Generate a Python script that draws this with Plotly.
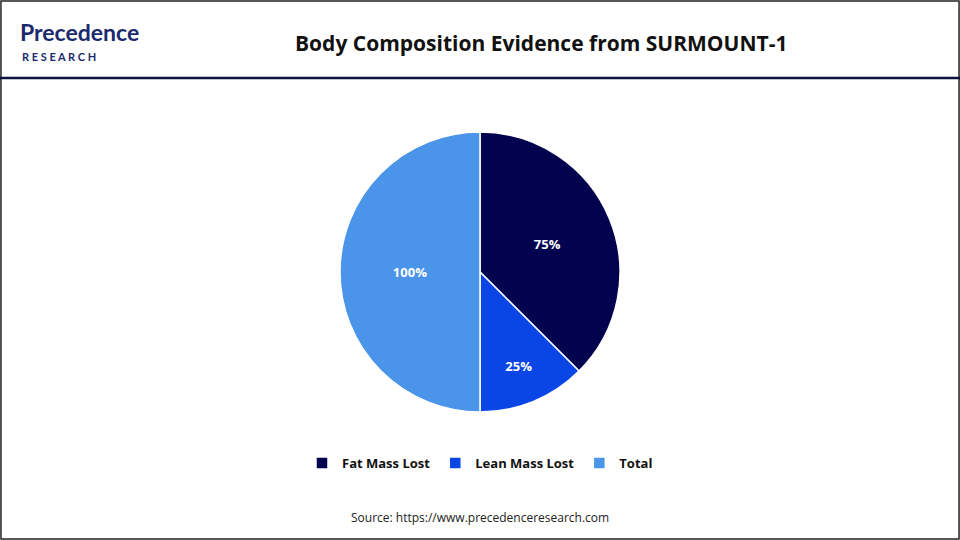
import plotly.graph_objects as go

labels = ["Fat Mass Lost", "Lean Mass Lost", "Total"]
values = [75, 25, 100]
text_labels = ["75%", "25%", "100%"]
colors = ["#02024f", "#0a46e6", "#4a94ea"]

fig = go.Figure()
fig.add_trace(go.Pie(
    labels=labels, values=values, text=text_labels, textinfo="text",
    sort=False, direction="clockwise", rotation=0,
    marker=dict(colors=colors, line=dict(color="white", width=1.5)),
    textfont=dict(family="Open Sans", size=13, color="white", weight="bold"),
    textposition="inside", insidetextorientation="horizontal",
    domain=dict(x=[340/960, 620/960], y=[1-412/540, 1-132/540]),
    hoverinfo="label+value",
))

fig.update_layout(
    width=960, height=540,
    margin=dict(l=0, r=0, t=0, b=0),
    paper_bgcolor="white",
    showlegend=True,
    legend=dict(orientation="h", x=0.5, xanchor="center", y=1-463/540, yanchor="middle",
                font=dict(family="Open Sans", size=13, color="#111", weight="bold"),
                itemwidth=30, traceorder="normal"),
    font=dict(family="Open Sans"),
    shapes=[
        dict(type="rect", xref="paper", yref="paper", x0=0.001, x1=0.999, y0=0.002, y1=0.998,
             line=dict(color="#222", width=1.5)),
        dict(type="line", xref="paper", yref="paper", x0=0, x1=1, y0=1-78/540, y1=1-78/540,
             line=dict(color="#0b1340", width=2.5)),
    ],
    annotations=[
        dict(text="<b>Body Composition Evidence from SURMOUNT-1</b>", x=0.564, y=1-43/540,
             xref="paper", yref="paper", yanchor="middle", showarrow=False,
             font=dict(family="Open Sans", size=21, color="#111")),
        dict(text="Source: https://www.precedenceresearch.com", x=0.5, y=1-517/540,
             xref="paper", yref="paper", yanchor="middle", showarrow=False,
             font=dict(family="Open Sans", size=12, color="#222")),
        dict(text="<b>Precedence</b>", x=18/960, y=1-32/540, xref="paper", yref="paper",
             xanchor="left", yanchor="middle", showarrow=False,
             font=dict(family="Lato", size=23, color="#1a2a6c")),
        dict(text="<b>R E S E A R C H</b>", x=20/960, y=1-56/540, xref="paper", yref="paper",
             xanchor="left", yanchor="middle", showarrow=False,
             font=dict(family="Lato", size=11, color="#1a2a6c")),
    ],
)

fig.write_html("out.html", config={"displayModeBar": False},
               post_script="document.body.style.margin='0';")
